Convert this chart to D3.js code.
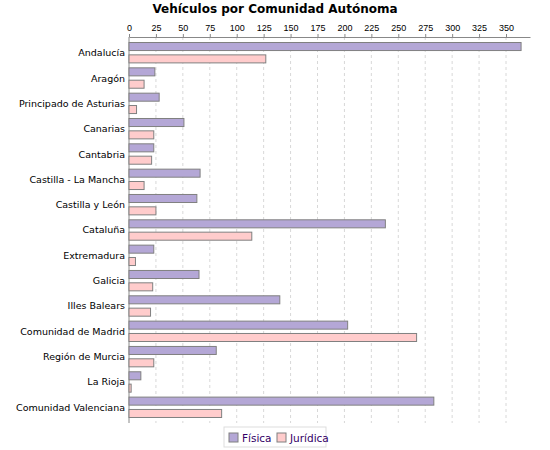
<!DOCTYPE html>
<html><head><meta charset="utf-8">
<script src="https://cdn.jsdelivr.net/npm/d3@7"></script>
<style>body{margin:0;background:#fff;font-family:"DejaVu Sans",sans-serif}</style>
</head><body><div id="chart"></div>
<script>
var categories = ["Andalucía","Aragón","Principado de Asturias","Canarias","Cantabria","Castilla - La Mancha","Castilla y León","Cataluña","Extremadura","Galicia","Illes Balears","Comunidad de Madrid","Región de Murcia","La Rioja","Comunidad Valenciana"];
var fisica   = [364,24,28,51,23,66,63,238,23,65,140,203,81,11,283];
var juridica = [127,14,7,23,21,14,25,114,6,22,20,267,23,2,86];
var series = ["Física","Jurídica"];
var colors = ["#b4a7d6","#ffcccc"];
var ticks = d3.range(0, 351, 25);

var width = 550, height = 450;
var plotL = 129, plotR = 530, plotT = 37, plotB = 423;

var svg = d3.select("#chart").append("svg").attr("width", width).attr("height", height);

svg.append("text").attr("x", 275).attr("y", 13).attr("text-anchor", "middle")
  .attr("font-size", 12).attr("font-weight", "bold").text("Vehículos por Comunidad Autónoma");

var x = d3.scaleLinear().domain([0, 350 * (plotR - plotL) / 377]).range([plotL, plotR]);
var y = d3.scaleBand().domain(categories).range([plotT, plotB]).paddingOuter(0.12).paddingInner(0);
var sub = d3.scaleBand().domain(series).range([0, y.bandwidth()]).paddingInner(0.35).paddingOuter(0.2);

// grid
svg.selectAll(".grid").data(ticks.slice(1)).enter().append("line")
  .attr("x1", d => x(d)).attr("x2", d => x(d)).attr("y1", plotT).attr("y2", plotB)
  .attr("stroke", "#d8d8d8").attr("stroke-dasharray", "3,3");

var ax = svg.append("g").attr("transform", "translate(0," + plotT + ")")
  .call(d3.axisTop(x).tickValues(ticks).tickSize(3).tickSizeOuter(0));
ax.select(".domain").attr("stroke", "#888");
ax.selectAll(".tick line").attr("stroke", "#888");
ax.selectAll("text").attr("font-size", 9).attr("fill", "#000");

svg.append("line").attr("x1", plotL).attr("x2", plotL).attr("y1", plotT).attr("y2", plotB).attr("stroke", "#888");

var g = svg.selectAll(".cat").data(categories).enter().append("g")
  .attr("transform", d => "translate(0," + y(d) + ")");
[fisica, juridica].forEach(function(vals, s) {
  g.append("rect")
    .attr("x", x(0)).attr("y", sub(series[s]))
    .attr("width", (d, i) => x(vals[i]) - x(0)).attr("height", sub.bandwidth())
    .attr("fill", colors[s]).attr("stroke", "#808080");
});
g.append("text").attr("x", plotL - 4).attr("y", y.bandwidth() / 2 + 3.5)
  .attr("text-anchor", "end").attr("font-size", 9.5).text(d => d);

// legend
var lg = svg.append("g").attr("transform", "translate(224,427)");
lg.append("rect").attr("width", 102).attr("height", 20).attr("fill", "#fff").attr("stroke", "#ddd");
series.forEach(function(s, i) {
  var ox = 5 + i * 48;
  lg.append("rect").attr("x", ox).attr("y", 6).attr("width", 9).attr("height", 9)
    .attr("fill", colors[i]).attr("stroke", "#808080");
  lg.append("text").attr("x", ox + 13).attr("y", 15).attr("font-size", 10.5)
    .attr("fill", "#330066").text(s);
});
</script></body></html>
